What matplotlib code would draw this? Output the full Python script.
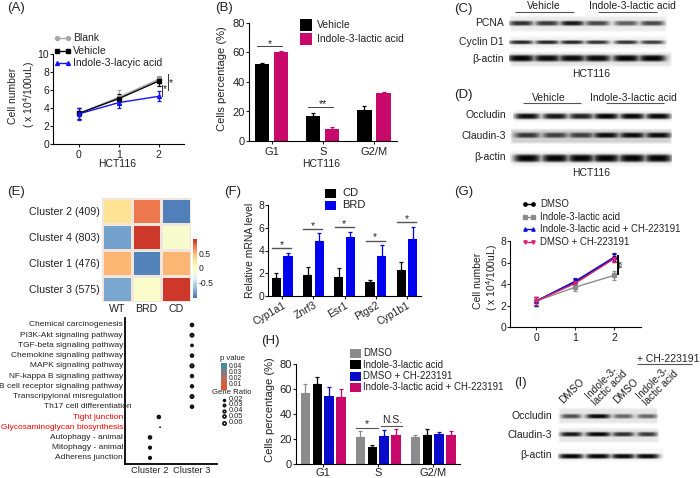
import numpy as np
import matplotlib
matplotlib.use("Agg")
import matplotlib.pyplot as plt
from matplotlib.colors import LinearSegmentedColormap

plt.rcParams['font.family'] = ['Liberation Sans', 'DejaVu Sans']
plt.rcParams['mathtext.default'] = 'regular'
plt.rcParams['axes.linewidth'] = 0.8

W, H = 700, 478
GRAY = '#8c8c8c'
PINK = '#c9086b'
BLUE = '#0000f0'
NAVY = '#0a0acb'
TXT = '#222222'

# (A) growth curve
a_days = [0, 1, 2]
a_blank = [3.4, 5.2, 7.2]
a_blank_err = [0.65, 0.8, 0.4]
a_vehicle = [3.4, 5.05, 7.0]
a_vehicle_err = [0.6, 0.55, 0.5]
a_indole = [3.35, 4.6, 5.3]
a_indole_err = [0.65, 0.6, 0.55]

# (B) cell cycle
b_phases = ['G1', 'S', 'G2/M']
b_vehicle = [52, 17, 21.3]
b_vehicle_err = [1, 2.3, 2.6]
b_indole = [60.3, 8.3, 32.8]
b_indole_err = [0.6, 1.2, 0.3]

# (C), (D), (I) blot band strengths per lane
c_pcna = [0.8, 0.75, 0.9, 0.7, 0.6, 0.7]
c_cyclin = [0.85, 0.85, 0.85, 0.8, 0.8, 0.75]
c_actin = [0.98, 0.95, 0.95, 0.95, 0.98, 0.98]
d_occludin = [0.95, 0.9, 0.85, 0.98, 0.97, 0.97]
d_claudin = [0.75, 0.7, 0.7, 0.95, 0.95, 0.95]
d_actin = [0.98, 0.98, 0.98, 0.98, 0.98, 0.98]
i_occludin = [0.65, 0.97, 0.55, 0.55]
i_claudin = [0.9, 0.98, 0.8, 0.75]
i_actin = [0.98, 0.98, 0.97, 0.97]

# (E) heatmap
e_clusters = ['Cluster 2 (409)', 'Cluster 4 (803)', 'Cluster 1 (476)', 'Cluster 3 (575)']
e_groups = ['WT', 'BRD', 'CD']
e_values = [[0.28, 0.72, -0.98],
            [-0.82, 0.93, -0.1],
            [0.48, -0.96, 0.48],
            [-0.8, -0.08, 0.93]]

# (E) pathway dot plot
path_names = ['Chemical carcinogenesis', 'PI3K-Akt signaling pathway', 'TGF-beta signaling pathway',
              'Chemokine signaling pathway', 'MAPK signaling pathway', 'NF-kappa B signaling pathway',
              'B cell receptor signaling pathway', 'Transcripyional misregulation', 'Th17 cell differentiation',
              'Tight junction', 'Glycosaminoglycan biosynthesis', 'Autophagy - animal',
              'Mitophagy - animal', 'Adherens junction']
path_cluster = [1, 1, 1, 1, 1, 1, 1, 1, 1, 0.21, 0.24, 0, 0, 0]
path_ratio = [0.04, 0.055, 0.02, 0.04, 0.06, 0.035, 0.035, 0.055, 0.04, 0.04, 0.005, 0.04, 0.03, 0.03]
path_p = [0.02, 0.04, 0.02, 0.02, 0.01, 0.02, 0.02, 0.005, 0.02, 0.03, 0.03, 0.03, 0.03, 0.03]
legend_p = [0.04, 0.03, 0.02, 0.01]
legend_ratio = [0.02, 0.03, 0.04, 0.05, 0.06]

# (F) mRNA levels
f_genes = ['Cyp1a1', 'Znrf3', 'Esr1', 'Ptgs2', 'Cyp1b1']
f_cd = [1.6, 1.85, 1.7, 1.25, 2.25]
f_cd_err = [0.45, 0.7, 0.8, 0.2, 0.75]
f_brd = [3.5, 4.85, 5.15, 3.5, 5.05]
f_brd_err = [0.25, 0.7, 0.5, 1.0, 1.05]
f_sig = [4.2, 5.9, 6.05, 4.85, 6.5]

# (G) growth curve
g_days = [0, 1, 2]
g_dmso = [2.4, 4.2, 6.4]
g_dmso_err = [0.4, 0.3, 0.35]
g_indole = [2.4, 3.7, 4.8]
g_indole_err = [0.35, 0.35, 0.45]
g_indole_ch = [2.4, 4.25, 6.5]
g_indole_ch_err = [0.4, 0.3, 0.35]
g_dmso_ch = [2.4, 4.05, 6.35]
g_dmso_ch_err = [0.35, 0.3, 0.3]

# (H) cell cycle with inhibitor
h_phases = ['G1', 'S', 'G2/M']
h_dmso = [57, 22, 22]
h_dmso_err = [7, 4.5, 1]
h_indole = [64, 13.5, 23.5]
h_indole_err = [5.5, 1.5, 4.5]
h_dmso_ch = [54.5, 22.5, 24]
h_dmso_ch_err = [7.5, 4.5, 2]
h_indole_ch = [54, 23.5, 23.5]
h_indole_ch_err = [6, 4.5, 3]

fig = plt.figure(figsize=(7, 4.78), dpi=100)

# full figure axes in pixels, for annotations and blots
over = fig.add_axes([0, 0, 1, 1], zorder=5)
over.set_xlim(0, W)
over.set_ylim(H, 0)
over.axis('off')
over.patch.set_alpha(0)


def px_axes(left, top, right, bottom):
    return fig.add_axes([left / W, 1 - bottom / H, (right - left) / W, (bottom - top) / H])


def text(x, y, s, size=7.5, ha='center', va='center', color=TXT, **kw):
    over.text(x, y, s, fontsize=size, ha=ha, va=va, color=color, **kw)


def hline(x0, x1, y, color='#555555', lw=0.8):
    over.plot([x0, x1], [y, y], color=color, lw=lw, solid_capstyle='butt')


def clean(ax, size=7.5):
    ax.spines['top'].set_visible(False)
    ax.spines['right'].set_visible(False)
    ax.tick_params(labelsize=size, length=2, width=0.8, pad=0.8, colors=TXT)


def blot(left, top, right, bottom, band_y, lanes, widths, strengths, thick=2.6, bg=0.9):
    xs = np.arange(left, right, 0.5)
    ys = np.arange(top, bottom, 0.5)
    xx, yy = np.meshgrid(xs, ys)
    dark = np.zeros_like(xx)
    for cx, w, st in zip(lanes, widths, strengths):
        dark = np.maximum(dark, st * np.exp(-((xx - cx) / (w / 2)) ** 4) * np.exp(-((yy - band_y) / thick) ** 4))
    # strip fades out to the page at its edges
    edge = np.minimum(np.minimum(xx - left, right - xx), np.minimum(yy - top, bottom - yy))
    paper = 1 - (1 - bg) * np.clip(edge / 2.5, 0, 1)
    img = paper * (1 - dark)
    over.imshow(img, cmap='gray', vmin=0, vmax=1, extent=[left, right, bottom, top], aspect='auto',
                interpolation='bilinear')


def bars(ax, x, vals, errs, color, width):
    ax.bar(x, vals, width=width, color=color)
    ax.errorbar(x, vals, yerr=[np.zeros(len(errs)), errs], fmt='none', ecolor=color, elinewidth=0.9,
                capsize=1.6, capthick=0.9)


def curve(ax, x, y, err, color, marker, lw=1.0, ms=2.8):
    ax.errorbar(x, y, yerr=err, color=color, marker=marker, ms=ms, lw=lw, elinewidth=0.9, capsize=1.6, capthick=0.9)


# panel letters
for s, x, y in [('(A)', 16, 8), ('(B)', 224, 8), ('(C)', 463, 9), ('(D)', 463, 95), ('(E)', 16, 192),
                ('(F)', 233, 192), ('(G)', 464, 192), ('(H)', 270, 341), ('(I)', 520, 383)]:
    text(x, y, s, size=9.5)

# (A)
ax = px_axes(53, 54, 184, 144)
curve(ax, a_days, a_blank, a_blank_err, '#a6a6a6', 'o')
curve(ax, a_days, a_vehicle, a_vehicle_err, 'black', 's')
curve(ax, a_days, a_indole, a_indole_err, '#1414f5', '^')
ax.set_xlim(-0.65, 2.63)
ax.set_ylim(0, 10)
ax.set_xticks(a_days)
ax.set_yticks([0, 2, 4, 6, 8, 10])
clean(ax)
ax.tick_params(axis='x', pad=2.5)
ax.plot([2.07, 2.07], [5.3, 6.6], color='#333333', lw=0.7)
ax.plot([2.23, 2.23], [5.95, 7.8], color='#333333', lw=0.7)
text(165, 89, '*', size=7.5)
text(171, 83, '*', size=7.5)
text(13, 96, 'Cell number', rotation=90)
text(29, 95, '( x 10$^{4}$/100uL)', rotation=90)
text(117, 164, 'HCT116')
for y, color, marker, s in [(38, '#a6a6a6', 'o', 'Blank'), (51, 'black', 's', 'Vehicle'),
                            (63, '#1414f5', '^', 'Indole-3-lacyic acid')]:
    over.plot([57, 68], [y, y], color=color, lw=1, marker=marker, ms=2.8)
    text(73, y, s, ha='left')

# (B)
ax = px_axes(249, 23, 397, 141)
xb = np.arange(len(b_phases))
bars(ax, xb - 0.187, b_vehicle, b_vehicle_err, 'black', 0.28)
bars(ax, xb + 0.187, b_indole, b_indole_err, PINK, 0.28)
ax.set_xlim(-0.44, 2.45)
ax.set_ylim(0, 80)
ax.set_xticks(xb, b_phases)
ax.set_yticks([0, 20, 40, 60, 80])
clean(ax, 8)
ax.tick_params(axis='x', pad=2)
ax.plot([-0.28, 0.2], [64.4, 64.4], color='#444444', lw=0.7)
ax.plot([0.72, 1.2], [22.8, 22.8], color='#444444', lw=0.7)
text(270, 44, '*', size=7.5)
text(323, 104, '**', size=7.5)
text(222, 79, 'Cells percentage (%)', size=8, rotation=90)
text(321, 164, 'HCT116')
for y, color, s in [(25, 'black', 'Vehicle'), (39, PINK, 'Indole-3-lactic acid')]:
    over.fill_between([300, 312], y - 6, y + 6, color=color, lw=0)
    text(317, y, s, ha='left')

# (C)
c_lanes = [521, 547, 572, 597, 626, 652]
blot(509, 15, 667, 32, 23, c_lanes, [24] * 6, c_pcna, thick=2.4, bg=0.92)
blot(509, 35, 667, 49, 42, c_lanes, [24] * 6, c_cyclin, thick=1.9, bg=0.95)
blot(509, 51, 672, 67, 58, c_lanes, [27] * 6, c_actin, thick=3.2, bg=0.9)
text(544, 6, 'Vehicle')
text(632, 6, 'Indole-3-lactic acid')
hline(515, 574, 12)
hline(598, 657, 12)
for y, s in [(23, 'PCNA'), (42, 'Cyclin D1'), (59, 'β-actin')]:
    text(504, y, s, ha='right')
text(591, 74, 'HCT116')

# (D)
d_lanes = [527, 555, 581, 606, 632, 658]
blot(513, 109, 672, 123, 116, d_lanes, [25] * 6, d_occludin, thick=2.8, bg=0.95)
blot(510, 128, 672, 144, 135, d_lanes, [25] * 6, d_claudin, thick=2.6, bg=0.82)
blot(510, 150, 672, 167, 158, d_lanes, [27] * 6, d_actin, thick=3.8, bg=0.95)
text(549, 98, 'Vehicle')
text(633, 98, 'Indole-3-lactic acid')
hline(523, 581, 103)
hline(606, 664, 103)
for y, s in [(115, 'Occludin'), (136, 'Claudin-3'), (157, 'β-actin')]:
    text(506, y, s, ha='right')
text(591, 173, 'HCT116')

# (E) heatmap
heat_cmap = LinearSegmentedColormap.from_list('heat', ['#4575B4', '#91BFDB', '#E0F3F8', '#FFFFBF', '#FEE090',
                                                       '#F98E5A', '#C62A22'])
ax = px_axes(102, 198, 191, 302)
mesh = ax.pcolormesh(np.array(e_values), cmap=heat_cmap, vmin=-1.03, vmax=0.98, edgecolors='#f2e6dc', linewidth=0.9)
ax.set_ylim(4, 0)
ax.set_xticks(np.arange(3) + 0.5, e_groups)
ax.set_yticks(np.arange(4) + 0.5, e_clusters)
ax.tick_params(length=0, labelsize=7.7, pad=1.5, colors=TXT)
for sp in ax.spines.values():
    sp.set_visible(False)
cax = px_axes(193, 239, 197, 298)
cb = fig.colorbar(mesh, cax=cax)
cb.set_ticks([-0.5, 0, 0.5], labels=['-0.5', '0', '0.5'])
cb.outline.set_visible(False)
cax.tick_params(length=0, labelsize=6.2, pad=1, colors=TXT)

# (E) dot plot
p_cmap = LinearSegmentedColormap.from_list('pval', ['#dc5a30', '#b8705e', '#4a8aa5'])
ax = px_axes(125, 318, 217, 464)
rows = np.arange(len(path_names))
ax.scatter(path_cluster, rows, s=[90 * r for r in path_ratio], c=path_p, cmap=p_cmap, vmin=0, vmax=0.04,
           edgecolors='#111111', linewidths=[0.6 if r < 0.01 else 1.4 for r in path_ratio])
ax.set_xlim(-0.595, 1.595)
ax.set_ylim(13.6, -0.68)
ax.set_xticks([0, 1], ['Cluster 2', 'Cluster 3'])
ax.set_yticks([])
ax.spines['top'].set_visible(False)
ax.spines['right'].set_visible(False)
ax.spines['left'].set_linewidth(1.3)
ax.spines['bottom'].set_linewidth(1.3)
ax.tick_params(length=0, labelsize=6.7, pad=1.5, colors=TXT)
for i, s in enumerate(path_names):
    color = 'red' if s in ('Tight junction', 'Glycosaminoglycan biosynthesis') else TXT
    right = 132 if s.startswith('Th17') else 123
    text(right, 325 + i * 10.23, s, size=6.05, ha='right', color=color)
text(232, 359, 'p value', size=5.6)
for y, ly, p in zip([366, 372, 378, 383], [367, 373, 379, 385], legend_p):
    over.fill_between([221, 227], y - 3, y + 3, color=p_cmap(p / 0.04), lw=0)
    text(228.5, ly, '%.2f' % p, size=4.9, ha='left')
over.fill_between([221, 227], 385, 390, color='#dc5a30', lw=0)
text(232, 393, 'Gene Ratio', size=5.6)
for y, r in zip([399.5, 405, 410.5, 416, 422.5], legend_ratio):
    over.scatter([224], [y], s=90 * r, c='white', edgecolors='#111111', linewidths=1.2)
    text(229, y, '%.2f' % r, size=5.3, ha='left')

# (F)
ax = px_axes(268, 205, 421, 296)
xf = (282.2 - 268 + 31.2 * np.arange(len(f_genes)))
bars(ax, xf - 5.8, f_cd, f_cd_err, 'black', 9.2)
bars(ax, xf + 5.8, f_brd, f_brd_err, BLUE, 9.2)
ax.set_xlim(0, 153)
ax.set_ylim(0, 8)
ax.set_xticks(xf, f_genes, rotation=30, ha='right', rotation_mode='anchor')
ax.set_yticks([0, 2, 4, 6, 8])
clean(ax, 7.5)
ax.plot(np.array([xf - 10, xf + 9]), [f_sig, f_sig], color='#555555', lw=1)
for x, y in zip(xf, f_sig):
    ax.text(x - 0.5, y - 0.15, '*', fontsize=7.5, ha='center', va='bottom', color=TXT)
text(250, 250, 'Relative mRNA level', rotation=90)
for y, color, s in [(193, 'black', 'CD'), (205, BLUE, 'BRD')]:
    over.fill_between([325, 336], y - 4.5, y + 4.5, color=color, lw=0)
    text(342, y, s, ha='left', size=8)

# (G)
ax = px_axes(510, 241, 641, 327)
curve(ax, g_days, g_dmso, g_dmso_err, 'black', 'o', ms=2.4)
curve(ax, g_days, g_indole, g_indole_err, GRAY, 's', ms=2.4)
curve(ax, g_days, g_indole_ch, g_indole_ch_err, '#1010e0', '^', ms=2.4)
curve(ax, g_days, g_dmso_ch, g_dmso_ch_err, '#e0206e', 'v', ms=2.4)
ax.set_xlim(-0.667, 2.69)
ax.set_ylim(0, 8)
ax.set_xticks(g_days)
ax.set_yticks([0, 2, 4, 6, 8])
clean(ax)
ax.tick_params(axis='x', pad=2)
ax.plot([2.1, 2.1], [4.9, 6.6], color='black', lw=1.4)
text(623, 264, '**', size=8, rotation=90)
text(478, 281, 'Cell number', rotation=90)
text(492, 278, '( x 10$^{4}$/100uL)', rotation=90)
for y, color, marker, s in [(204, 'black', 'o', 'DMSO'), (217, GRAY, 's', 'Indole-3-lactic acid'),
                            (229, '#1010e0', '^', 'Indole-3-lactic acid + CH-223191'),
                            (242, '#e0206e', 'v', 'DMSO + CH-223191')]:
    over.plot([525, 533], [y, y], color=color, lw=1, marker=marker, ms=2.4)
    text(540, y, s, ha='left', size=6.9)

# (H)
ax = px_axes(296, 364, 460, 464)
xh = 323.2 - 296 + 55 * np.arange(len(h_phases))
for off, vals, errs, color in [(-17.75, h_dmso, h_dmso_err, GRAY), (-5.9, h_indole, h_indole_err, 'black'),
                               (5.9, h_dmso_ch, h_dmso_ch_err, NAVY), (17.75, h_indole_ch, h_indole_ch_err, PINK)]:
    bars(ax, xh + off, vals, errs, color, 9.5)
ax.set_xlim(0, 164)
ax.set_ylim(0, 80)
ax.set_xticks(xh, h_phases)
ax.set_yticks([0, 20, 40, 60, 80])
clean(ax, 8)
ax.tick_params(axis='x', pad=1)
ax.plot([xh[1] - 22, xh[1] - 0.5], [28.8, 28.8], color='#555555', lw=0.8)
ax.plot([xh[1] + 3, xh[1] + 24], [30.4, 30.4], color='#555555', lw=0.8)
text(366.5, 424, '*', size=7.5)
text(392, 420, 'N.S.', size=7.5)
text(270, 410, 'Cells percentage (%)', size=8, rotation=90)
for y, color, s in [(353.5, GRAY, 'DMSO'), (364.5, 'black', 'Indole-3-lactic acid'),
                    (376, NAVY, 'DMSO + CH-223191'), (387, PINK, 'Indole-3-lactic acid + CH-223191')]:
    over.fill_between([350, 361], y - 4.5, y + 4.5, color=color, lw=0)
    text(363, y, s, ha='left', size=6.9)

# (I)
i_lanes = [571, 598, 623, 647]
blot(558, 407, 658, 424, 416, i_lanes, [20, 24, 20, 20], i_occludin, thick=2.2, bg=0.9)
blot(558, 427, 659, 443, 434, i_lanes, [22, 25, 22, 20], i_claudin, thick=2.2, bg=0.9)
blot(558, 447, 664, 463, 456, i_lanes, [25, 25, 24, 24], i_actin, thick=2.4, bg=0.97)
for y, s in [(416, 'Occludin'), (435, 'Claudin-3'), (455, 'β-actin')]:
    text(552, y, s, ha='right')
for x, y, s in [(565, 405, 'DMSO'), (597, 407, 'Indole-3-\nlactic acid'), (619, 405, 'DMSO'),
                (648, 407, 'Indole-3-\nlactic acid')]:
    over.text(x, y, s, fontsize=7.4, rotation=45, rotation_mode='anchor', ha='left', va='bottom',
              color=TXT, linespacing=0.9)
text(668, 359, '+ CH-223191')
hline(637, 692, 364)

over.set_xlim(0, W)
over.set_ylim(H, 0)
fig.savefig('out.png', dpi=100)
